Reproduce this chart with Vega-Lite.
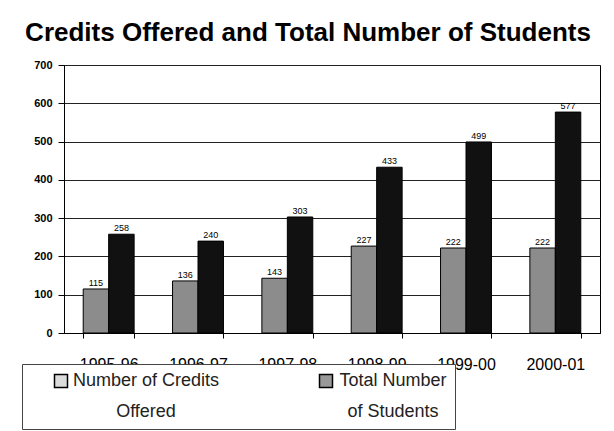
{
  "$schema": "https://vega.github.io/schema/vega-lite/v6.json",
  "width": 536,
  "height": 268,
  "autosize": {"type": "none"},
  "padding": {"left": 64, "top": 65, "right": 14, "bottom": 98},
  "background": "white",
  "config": {"font": "Liberation Sans", "view": {"stroke": "black", "strokeWidth": 1}},
  "title": {"text": "Credits Offered and Total Number of Students", "anchor": "middle", "dx": -24, "offset": 13, "fontSize": 26, "fontWeight": "bold", "font": "Liberation Sans", "color": "black"},
  "data": {"values": [
    {"year": "1995-96", "series": "Number of Credits Offered", "value": 115},
    {"year": "1995-96", "series": "Total Number of Students", "value": 258},
    {"year": "1996-97", "series": "Number of Credits Offered", "value": 136},
    {"year": "1996-97", "series": "Total Number of Students", "value": 240},
    {"year": "1997-98", "series": "Number of Credits Offered", "value": 143},
    {"year": "1997-98", "series": "Total Number of Students", "value": 303},
    {"year": "1998-99", "series": "Number of Credits Offered", "value": 227},
    {"year": "1998-99", "series": "Total Number of Students", "value": 433},
    {"year": "1999-00", "series": "Number of Credits Offered", "value": 222},
    {"year": "1999-00", "series": "Total Number of Students", "value": 499},
    {"year": "2000-01", "series": "Number of Credits Offered", "value": 222},
    {"year": "2000-01", "series": "Total Number of Students", "value": 577}
  ]},
  "encoding": {
    "x": {"field": "year", "type": "nominal", "sort": null,
      "scale": {"paddingInner": 0.43, "paddingOuter": 0.215},
      "axis": {"title": null, "labelAngle": 0, "tickBand": "extent", "domainColor": "black", "tickColor": "black", "tickSize": 5, "labelFontSize": 16, "labelColor": "black", "labelPadding": 18, "grid": false}},
    "xOffset": {"field": "series", "type": "nominal", "sort": ["Number of Credits Offered", "Total Number of Students"], "scale": {"paddingInner": 0}},
    "y": {"field": "value", "type": "quantitative", "scale": {"domain": [0, 700]},
      "axis": {"title": null, "values": [0, 100, 200, 300, 400, 500, 600, 700], "grid": true, "gridColor": "#222", "gridWidth": 1, "gridOpacity": 1, "domainColor": "black", "tickColor": "black", "tickSize": 6, "labelFontSize": 11, "labelFontWeight": "bold", "labelColor": "black", "labelPadding": 6}}
  },
  "layer": [
    {
      "mark": {"type": "bar", "stroke": "black", "strokeWidth": 1},
      "encoding": {
        "fill": {"field": "series", "type": "nominal",
          "scale": {"range": ["#8c8c8c", "#111111"]},
          "legend": null}
      }
    },
    {
      "mark": {"type": "square", "opacity": 0, "stroke": "black", "strokeWidth": 1.5, "size": 10},
      "encoding": {
        "color": {"field": "series", "type": "nominal",
          "scale": {"domain": ["Number of Credits Offered", "Total Number of Students"], "range": ["#dcdcdc", "#999999"]},
          "legend": {
            "orient": "none", "legendX": -42, "legendY": 299, "direction": "horizontal", "columns": 2,
            "title": null,
            "symbolType": "square", "symbolSize": 169, "symbolStrokeColor": "black", "symbolStrokeWidth": 1.5, "symbolOffset": 22,
            "labelFontSize": 18, "labelColor": "#222", "labelOffset": 4, "labelBaseline": "middle", "labelAlign": "center",
            "strokeColor": "#444", "fillColor": "white", "padding": 8, "columnPadding": 75,
            "labelExpr": "datum.label == 'Number of Credits Offered' ? ['Number of Credits', 'Offered'] : ['Total Number', 'of Students']",
            "encode": {
              "labels": {"update": {"lineHeight": {"value": 31}, "dx": {"signal": "datum.value == 'Number of Credits Offered' ? 72 : 54"}}}
            }
          }}
      }
    },
    {
      "mark": {"type": "text", "dy": -6, "fontSize": 9, "color": "black"},
      "encoding": {"text": {"field": "value", "type": "quantitative"}}
    }
  ]
}
